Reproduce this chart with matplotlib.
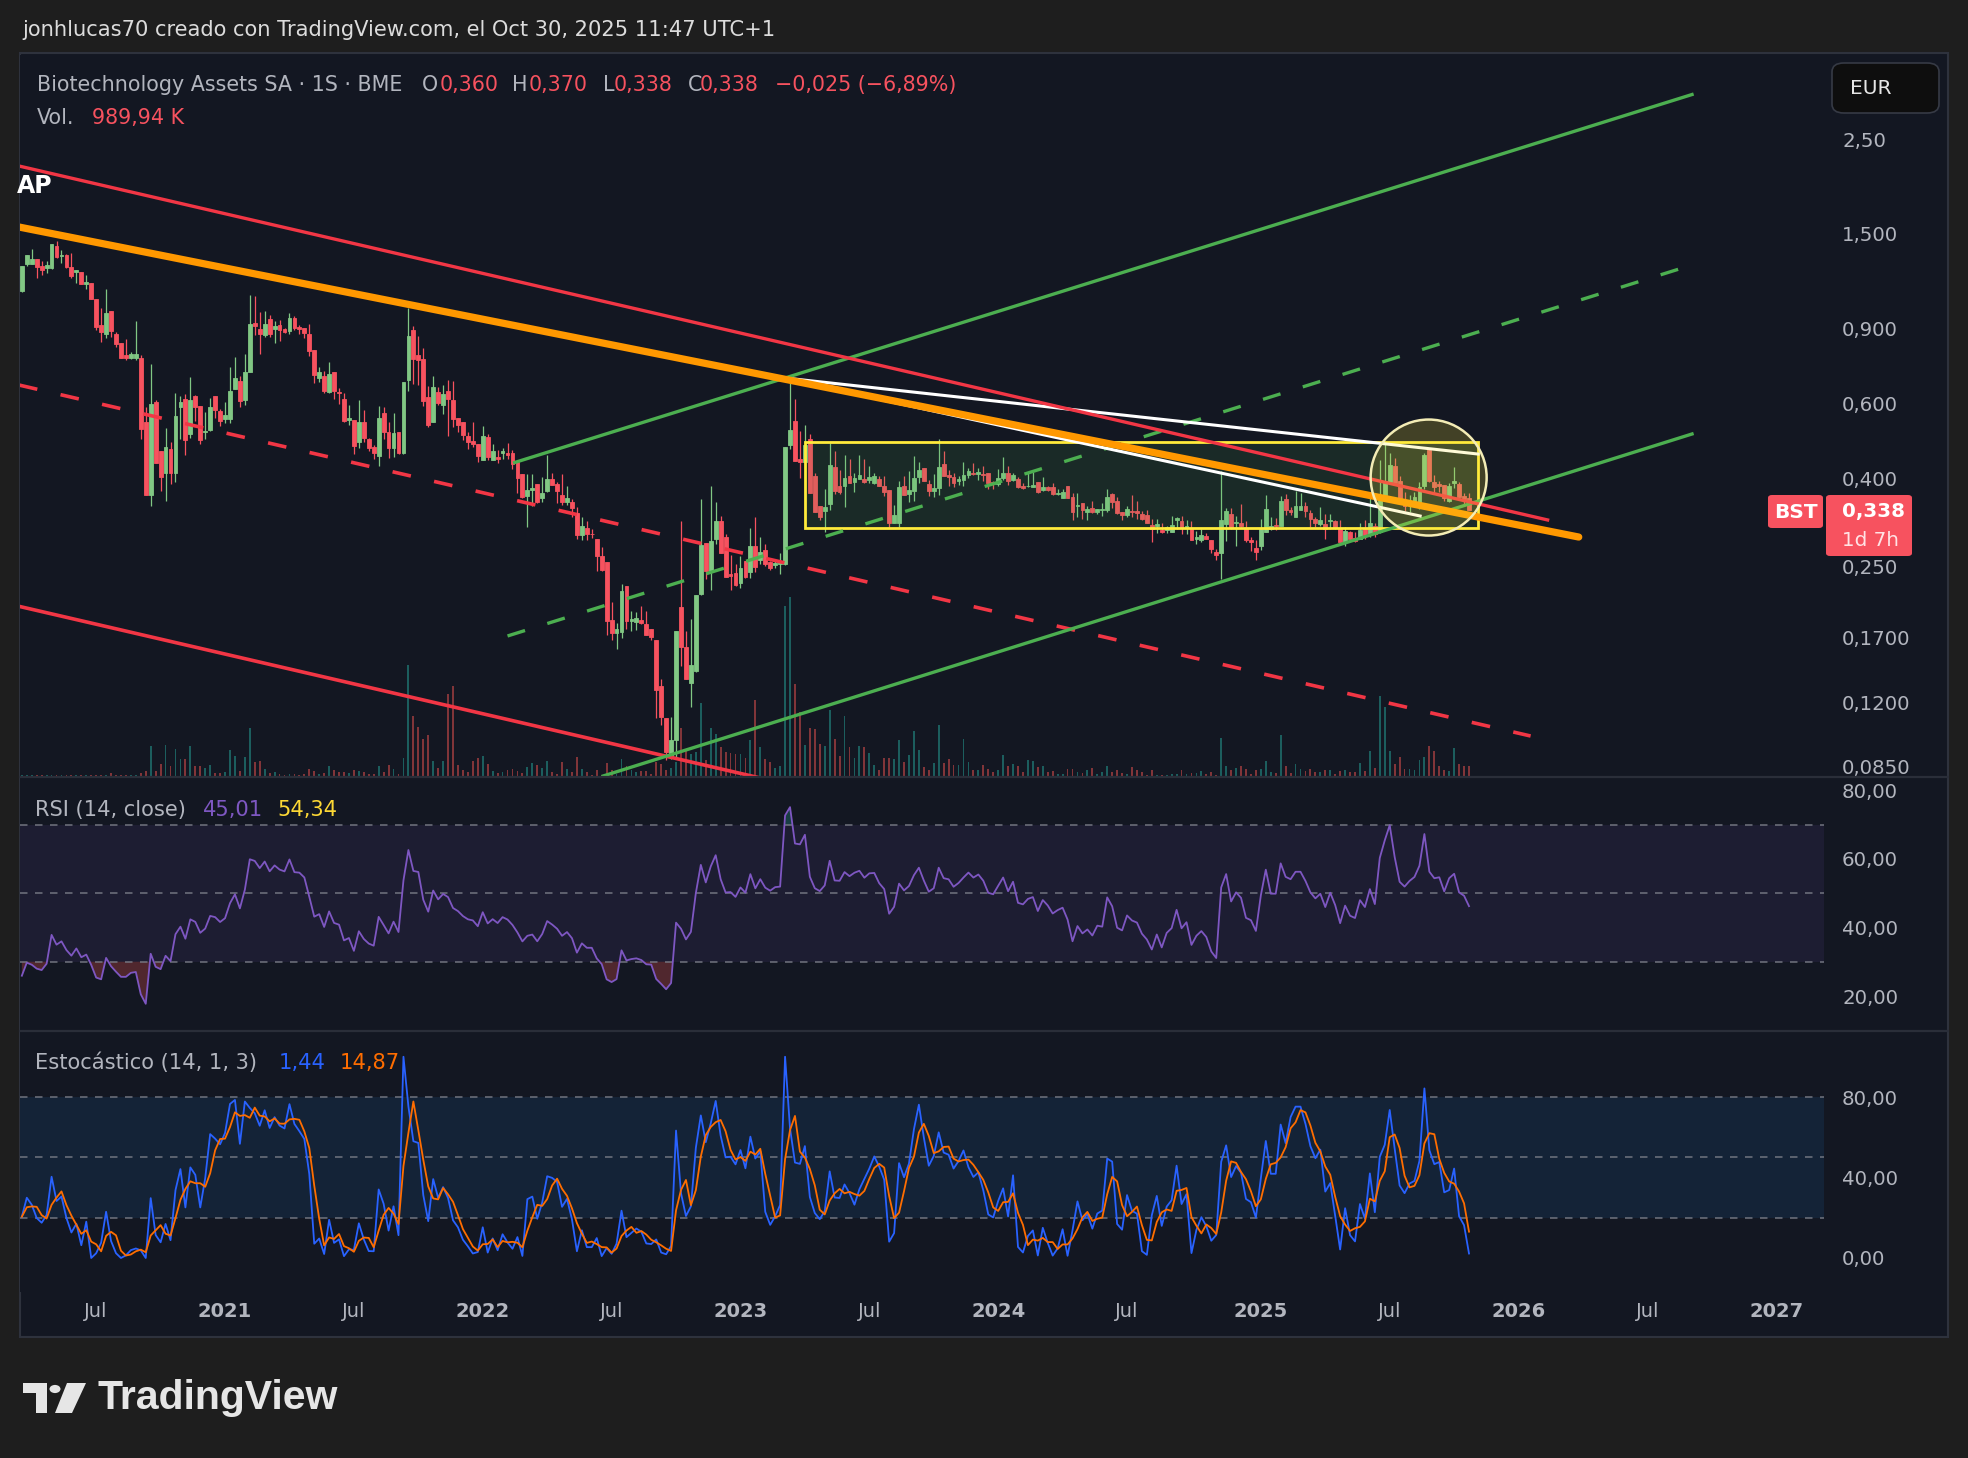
import numpy as np
import pandas as pd
import matplotlib
matplotlib.use('Agg')
import matplotlib.pyplot as plt
import matplotlib.dates as mdates
import matplotlib.transforms as mtransforms
from matplotlib.patches import Rectangle, Circle, FancyBboxPatch, Polygon
from matplotlib.lines import Line2D
from matplotlib.ticker import NullFormatter, NullLocator

# ---------------- data (weekly candles, BST / BME) ----------------
first_week = '2020-03-23'

open_ = [
    1.104, 1.274, 1.274, 1.308, 1.26, 1.245, 1.245, 1.406, 1.33, 1.336,
    1.255, 1.22, 1.22, 1.146, 1.15, 1.055, 0.918, 0.876, 0.989, 0.875,
    0.833, 0.781, 0.768, 0.768, 0.768, 0.544, 0.366, 0.607, 0.464, 0.413,
    0.47, 0.413, 0.589, 0.615, 0.511, 0.626, 0.593, 0.514, 0.52, 0.624,
    0.578, 0.553, 0.553, 0.65, 0.68, 0.611, 0.711, 0.927, 0.898, 0.868,
    0.945, 0.899, 0.917, 0.899, 0.888, 0.954, 0.909, 0.901, 0.874, 0.802,
    0.688, 0.695, 0.640, 0.712, 0.638, 0.616, 0.550, 0.549, 0.487, 0.544,
    0.496, 0.475, 0.453, 0.570, 0.516, 0.473, 0.515, 0.461, 0.682, 0.893,
    0.780, 0.764, 0.623, 0.545, 0.639, 0.595, 0.642, 0.612, 0.556, 0.544,
    0.505, 0.491, 0.483, 0.443, 0.502, 0.443, 0.450, 0.460, 0.459, 0.460,
    0.439, 0.41, 0.365, 0.377, 0.39, 0.36, 0.375, 0.399, 0.389, 0.367,
    0.354, 0.354, 0.332, 0.295, 0.307, 0.298, 0.29, 0.264, 0.256, 0.187,
    0.174, 0.175, 0.225, 0.186, 0.185, 0.187, 0.183, 0.178, 0.168, 0.131,
    0.11, 0.0895, 0.098, 0.201, 0.162, 0.133, 0.142, 0.215, 0.283, 0.244,
    0.29, 0.318, 0.292, 0.24, 0.241, 0.228, 0.257, 0.242, 0.278, 0.258, 0.272,
    0.255, 0.252, 0.253, 0.253, 0.48, 0.547, 0.445, 0.439, 0.495, 0.406,
    0.345, 0.337, 0.349, 0.426, 0.385, 0.385, 0.406, 0.394, 0.399, 0.40,
    0.398, 0.392, 0.40, 0.385, 0.376, 0.316, 0.316, 0.384, 0.368, 0.375,
    0.405, 0.425, 0.389, 0.374, 0.381, 0.434, 0.408, 0.404, 0.395, 0.397,
    0.409, 0.413, 0.411, 0.411, 0.412, 0.394, 0.39, 0.402, 0.414, 0.397,
    0.399, 0.384, 0.384, 0.383, 0.393, 0.376, 0.383, 0.382, 0.368, 0.361,
    0.384, 0.362, 0.345, 0.352, 0.335, 0.342, 0.335, 0.338, 0.338, 0.368,
    0.355, 0.335, 0.33, 0.337, 0.337, 0.331, 0.33, 0.312, 0.311, 0.303,
    0.304, 0.30, 0.321, 0.319, 0.308, 0.307, 0.289, 0.288, 0.294, 0.288,
    0.27, 0.268, 0.314, 0.331, 0.315, 0.315, 0.307, 0.287, 0.276, 0.279,
    0.301, 0.305, 0.312, 0.311, 0.359, 0.339, 0.325, 0.338, 0.346, 0.332,
    0.323, 0.313, 0.314, 0.318, 0.318, 0.307, 0.285, 0.301, 0.291, 0.29,
    0.306, 0.296, 0.311, 0.301, 0.366, 0.394, 0.429, 0.395, 0.355, 0.351,
    0.35, 0.348, 0.385, 0.467, 0.394, 0.389, 0.388, 0.355, 0.392, 0.39,
    0.364, 0.36,
]
high_ = [
    1.26, 1.336, 1.38, 1.308, 1.296, 1.296, 1.42, 1.444, 1.375, 1.345,
    1.35, 1.232, 1.22, 1.202, 1.15, 1.055, 1.006, 1.114, 0.989, 0.885,
    0.833, 0.85, 0.793, 0.938, 0.781, 0.589, 0.743, 0.612, 0.464, 0.527,
    0.487, 0.635, 0.626, 0.632, 0.693, 0.628, 0.593, 0.574, 0.62, 0.624,
    0.584, 0.606, 0.73, 0.772, 0.695, 0.784, 1.081, 1.075, 0.983, 0.99,
    0.968, 0.937, 0.942, 0.904, 0.977, 0.962, 0.917, 0.901, 0.922, 0.802,
    0.733, 0.716, 0.752, 0.712, 0.652, 0.636, 0.596, 0.549, 0.612, 0.580,
    0.499, 0.480, 0.593, 0.590, 0.543, 0.570, 0.515, 0.674, 1.008, 0.912,
    0.865, 0.811, 0.660, 0.696, 0.656, 0.663, 0.682, 0.678, 0.556, 0.544,
    0.515, 0.544, 0.483, 0.532, 0.509, 0.483, 0.468, 0.472, 0.485, 0.468,
    0.44, 0.41, 0.411, 0.411, 0.39, 0.405, 0.455, 0.413, 0.394, 0.411,
    0.384, 0.358, 0.344, 0.326, 0.319, 0.305, 0.29, 0.277, 0.256, 0.206,
    0.184, 0.227, 0.225, 0.196, 0.195, 0.202, 0.196, 0.178, 0.168, 0.136,
    0.11, 0.111, 0.176, 0.318, 0.176, 0.188, 0.214, 0.359, 0.283, 0.384,
    0.353, 0.328, 0.297, 0.265, 0.253, 0.264, 0.257, 0.307, 0.325, 0.293, 0.281,
    0.257, 0.258, 0.268, 0.474, 0.686, 0.617, 0.517, 0.535, 0.509, 0.412,
    0.345, 0.379, 0.486, 0.465, 0.42, 0.455, 0.445, 0.412, 0.455, 0.445,
    0.43, 0.412, 0.406, 0.407, 0.376, 0.348, 0.396, 0.406, 0.417, 0.452,
    0.438, 0.425, 0.398, 0.41, 0.497, 0.465, 0.42, 0.412, 0.407, 0.438,
    0.424, 0.435, 0.424, 0.429, 0.412, 0.395, 0.423, 0.451, 0.429, 0.412,
    0.405, 0.391, 0.416, 0.415, 0.394, 0.405, 0.386, 0.391, 0.378, 0.378,
    0.384, 0.37, 0.37, 0.352, 0.346, 0.355, 0.341, 0.351, 0.379, 0.37,
    0.362, 0.335, 0.346, 0.367, 0.355, 0.336, 0.338, 0.322, 0.322, 0.316,
    0.31, 0.328, 0.325, 0.327, 0.32, 0.318, 0.302, 0.305, 0.299, 0.288,
    0.274, 0.417, 0.342, 0.342, 0.327, 0.35, 0.319, 0.293, 0.287, 0.322,
    0.367, 0.326, 0.324, 0.364, 0.368, 0.344, 0.375, 0.37, 0.354, 0.338,
    0.326, 0.343, 0.331, 0.331, 0.321, 0.32, 0.308, 0.302, 0.301, 0.316,
    0.321, 0.366, 0.315, 0.443, 0.486, 0.459, 0.447, 0.406, 0.373, 0.367,
    0.372, 0.393, 0.461, 0.47, 0.409, 0.396, 0.388, 0.391, 0.426, 0.393,
    0.371, 0.37,
]
low_ = [
    1.095, 1.262, 1.274, 1.181, 1.204, 1.215, 1.24, 1.32, 1.284, 1.25,
    1.18, 1.153, 1.146, 1.116, 1.055, 0.894, 0.839, 0.857, 0.86, 0.813,
    0.768, 0.76, 0.764, 0.758, 0.496, 0.366, 0.345, 0.437, 0.375, 0.355,
    0.39, 0.393, 0.496, 0.456, 0.50, 0.547, 0.483, 0.496, 0.518, 0.556,
    0.531, 0.542, 0.542, 0.65, 0.589, 0.597, 0.711, 0.867, 0.786, 0.86,
    0.862, 0.834, 0.842, 0.879, 0.874, 0.893, 0.874, 0.857, 0.776, 0.672,
    0.676, 0.637, 0.637, 0.617, 0.600, 0.543, 0.536, 0.457, 0.473, 0.489,
    0.465, 0.445, 0.429, 0.495, 0.448, 0.450, 0.457, 0.457, 0.642, 0.668,
    0.663, 0.592, 0.528, 0.543, 0.597, 0.569, 0.505, 0.528, 0.516, 0.493,
    0.471, 0.474, 0.439, 0.443, 0.442, 0.443, 0.436, 0.446, 0.445, 0.421,
    0.37, 0.361, 0.308, 0.346, 0.352, 0.354, 0.373, 0.387, 0.352, 0.347,
    0.348, 0.325, 0.289, 0.288, 0.288, 0.291, 0.243, 0.244, 0.172, 0.168,
    0.16, 0.17, 0.178, 0.176, 0.177, 0.183, 0.172, 0.168, 0.11, 0.106,
    0.088, 0.0885, 0.0885, 0.146, 0.136, 0.117, 0.141, 0.214, 0.233, 0.22,
    0.282, 0.268, 0.236, 0.22, 0.225, 0.222, 0.234, 0.234, 0.242, 0.253, 0.25,
    0.245, 0.247, 0.24, 0.252, 0.471, 0.441, 0.402, 0.438, 0.371, 0.335,
    0.32, 0.301, 0.338, 0.368, 0.368, 0.344, 0.392, 0.373, 0.399, 0.392,
    0.392, 0.39, 0.385, 0.365, 0.308, 0.316, 0.308, 0.366, 0.353, 0.356,
    0.392, 0.395, 0.364, 0.363, 0.367, 0.406, 0.385, 0.383, 0.388, 0.385,
    0.401, 0.409, 0.397, 0.396, 0.379, 0.378, 0.385, 0.398, 0.388, 0.395,
    0.381, 0.378, 0.382, 0.382, 0.371, 0.374, 0.375, 0.367, 0.367, 0.36,
    0.36, 0.32, 0.325, 0.322, 0.32, 0.333, 0.331, 0.328, 0.335, 0.342,
    0.331, 0.32, 0.325, 0.325, 0.322, 0.321, 0.315, 0.285, 0.299, 0.299,
    0.299, 0.30, 0.306, 0.298, 0.298, 0.287, 0.281, 0.285, 0.289, 0.268,
    0.258, 0.233, 0.286, 0.305, 0.278, 0.309, 0.284, 0.271, 0.258, 0.272,
    0.30, 0.303, 0.303, 0.311, 0.329, 0.329, 0.325, 0.338, 0.325, 0.308,
    0.309, 0.31, 0.289, 0.306, 0.306, 0.28, 0.278, 0.288, 0.285, 0.289,
    0.29, 0.293, 0.293, 0.299, 0.363, 0.394, 0.39, 0.351, 0.337, 0.335,
    0.346, 0.341, 0.379, 0.393, 0.373, 0.373, 0.355, 0.354, 0.38, 0.361,
    0.349, 0.338,
]
close_ = [
    1.26, 1.336, 1.308, 1.255, 1.236, 1.267, 1.42, 1.323, 1.341, 1.255,
    1.197, 1.232, 1.146, 1.158, 1.055, 0.907, 0.885, 0.978, 0.89, 0.828,
    0.768, 0.768, 0.783, 0.786, 0.524, 0.366, 0.60, 0.437, 0.405, 0.475,
    0.413, 0.562, 0.607, 0.494, 0.612, 0.59, 0.494, 0.518, 0.59, 0.581,
    0.546, 0.565, 0.642, 0.69, 0.608, 0.711, 0.922, 0.913, 0.876, 0.922,
    0.874, 0.912, 0.893, 0.885, 0.954, 0.901, 0.899, 0.880, 0.799, 0.701,
    0.711, 0.644, 0.704, 0.644, 0.635, 0.547, 0.555, 0.478, 0.544, 0.500,
    0.473, 0.461, 0.556, 0.516, 0.473, 0.512, 0.461, 0.674, 0.865, 0.765,
    0.760, 0.610, 0.535, 0.656, 0.602, 0.633, 0.615, 0.553, 0.535, 0.507,
    0.489, 0.483, 0.453, 0.504, 0.449, 0.464, 0.446, 0.465, 0.455, 0.433,
    0.402, 0.363, 0.377, 0.38, 0.354, 0.37, 0.399, 0.388, 0.375, 0.353,
    0.36, 0.342, 0.295, 0.311, 0.297, 0.297, 0.264, 0.245, 0.186, 0.174,
    0.178, 0.219, 0.186, 0.188, 0.189, 0.184, 0.172, 0.171, 0.128, 0.111,
    0.0915, 0.098, 0.176, 0.162, 0.136, 0.147, 0.214, 0.28, 0.244, 0.286,
    0.319, 0.268, 0.236, 0.237, 0.226, 0.247, 0.236, 0.278, 0.249, 0.27, 0.253,
    0.247, 0.254, 0.255, 0.474, 0.52, 0.441, 0.439, 0.48, 0.371, 0.335,
    0.326, 0.344, 0.432, 0.374, 0.373, 0.403, 0.392, 0.403, 0.409, 0.393,
    0.405, 0.406, 0.385, 0.373, 0.316, 0.33, 0.382, 0.367, 0.377, 0.402,
    0.42, 0.396, 0.374, 0.381, 0.426, 0.407, 0.405, 0.392, 0.399, 0.409,
    0.418, 0.411, 0.416, 0.408, 0.392, 0.39, 0.401, 0.412, 0.396, 0.408,
    0.382, 0.38, 0.386, 0.388, 0.372, 0.383, 0.377, 0.368, 0.371, 0.373,
    0.361, 0.335, 0.347, 0.338, 0.341, 0.334, 0.341, 0.34, 0.362, 0.354,
    0.332, 0.329, 0.34, 0.335, 0.333, 0.322, 0.316, 0.305, 0.314, 0.30,
    0.309, 0.312, 0.324, 0.307, 0.311, 0.287, 0.293, 0.296, 0.29, 0.274,
    0.266, 0.321, 0.336, 0.307, 0.317, 0.311, 0.287, 0.284, 0.27, 0.306,
    0.34, 0.31, 0.31, 0.355, 0.338, 0.335, 0.346, 0.346, 0.336, 0.323,
    0.316, 0.321, 0.306, 0.321, 0.307, 0.284, 0.302, 0.289, 0.286, 0.304,
    0.296, 0.315, 0.298, 0.361, 0.395, 0.431, 0.391, 0.353, 0.345, 0.355,
    0.362, 0.382, 0.455, 0.395, 0.383, 0.385, 0.36, 0.386, 0.395, 0.363,
    0.357, 0.338,
]
volume_k = [
    170, 160, 150, 160, 150, 170, 160, 150, 160, 150, 160, 170, 160, 150, 160, 150,
    160, 170, 380, 160, 170, 160, 170, 180,
    316, 570, 2750, 570, 1170, 2840, 1010, 2530, 1580, 1640, 2750, 950, 1010, 850,
    1100, 380, 380, 470, 2430, 1900, 570, 1800, 4420, 1360, 1450,
    750, 360, 420, 300, 150, 300, 240, 150, 300, 690, 510, 240, 360, 960, 600, 420,
    420, 360, 600, 540, 420, 240, 300, 960, 420, 1050, 750, 240, 1680, 10050, 5460,
    4500, 3390, 3750, 1410, 810, 1410, 7440, 8160, 1050, 600, 450, 1410, 1710, 1890,
    1140, 510, 360, 450, 660, 750,
    540, 360, 900, 1260, 1050, 810, 1440, 450, 300, 1350, 750, 450, 1800, 690, 450,
    210, 660, 150, 1260, 600, 300, 1590, 960, 600, 450, 510, 510, 240, 1350, 1200,
    600, 840, 1350, 4410, 2400, 2100, 2250, 6660, 1500, 4410, 3840, 2700, 2250, 2160,
    2040, 2040, 1680, 3300, 6900, 2700,
    1650, 1350, 810, 960, 15390, 16200, 8400, 5850, 2850, 4410, 4290, 3000, 2760, 6060,
    3390, 1860, 5460, 2700, 1710, 2760, 2700, 2160, 1050, 600, 1710, 1710, 1590, 3300,
    1350, 1950, 4140, 2430, 900, 660, 1260, 4650, 1260, 1590, 1050, 1050, 3390, 1350,
    600, 660, 1050, 750, 450, 600, 1950, 960, 1140,
    990, 450, 1500, 1440, 900, 990, 450, 540, 240, 300, 690, 750, 450, 360, 660, 810,
    300, 450, 990, 450, 600, 360, 300, 900, 600, 420, 210, 600, 150, 150, 150, 240,
    240, 600, 300, 360, 360, 540, 240, 420, 180, 3510, 990, 660, 810, 990, 750, 300,
    660, 750,
    1440, 450, 360, 3750, 990, 360, 1140, 750, 540, 690, 450, 450, 660, 600, 300, 540,
    660, 450, 420, 1260, 540, 2340, 810, 7290, 6300, 2340, 1200, 1800, 750, 750, 600,
    1500, 1800, 2790, 2340, 990, 660, 540, 2610, 1200, 990, 990,
]

# indicator state carried in from the weeks before the first visible candle
rsi_seed_avg_gain = 0.028
rsi_seed_avg_loss = 0.080
stoch_prior_high = 1.90
stoch_prior_low = 1.10

price_ticks = [2.5, 1.5, 0.9, 0.6, 0.4, 0.25, 0.17, 0.12, 0.085]
price_tick_labels = ['2,50', '1,500', '0,900', '0,600', '0,400', '0,250', '0,1700', '0,1200', '0,0850']
rsi_ticks = [80, 60, 40, 20]
rsi_tick_labels = ['80,00', '60,00', '40,00', '20,00']
stoch_ticks = [80, 40, 0]
stoch_tick_labels = ['80,00', '40,00', '0,00']
# first weekly bar of each half-year
time_ticks = ['2020-07-06', '2021-01-04', '2021-07-05', '2022-01-03', '2022-07-04', '2023-01-02',
              '2023-07-03', '2024-01-01', '2024-07-01', '2025-01-06', '2025-07-07', '2026-01-05',
              '2026-07-06', '2027-01-04']
time_labels = ['Jul', '2021', 'Jul', '2022', 'Jul', '2023', 'Jul', '2024', 'Jul', '2025', 'Jul',
               '2026', 'Jul', '2027']

# drawings (anchor dates, anchor prices)
orange_trend = (['2020-03-19', '2026-03-31'], [1.556, 0.2924])
red_channel_top = (['2020-03-19', '2026-02-15'], [2.162, 0.3206])
red_channel_mid = (['2020-03-19', '2026-01-22'], [0.6637, 0.100])
red_channel_bot = (['2020-03-13', '2023-01-29'], [0.2023, 0.0798])
green_channel_top = (['2022-02-17', '2026-09-07'], [0.437, 3.179])
green_channel_mid = (['2022-02-07', '2026-09-07'], [0.1715, 1.268])
green_channel_bot = (['2022-06-22', '2026-09-07'], [0.0806, 0.5097])
white_upper = (['2023-03-12', '2025-11-09'], [0.6876, 0.4574])
white_lower = (['2023-03-12', '2025-08-19'], [0.6821, 0.3275])
range_box = (['2023-04-03', '2025-11-09'], [0.3074, 0.4889])
focus_circle = ('2025-08-31', 0.403)

# ---------------- style ----------------
W, H = 1968, 1458
BG = '#131722'
OUTER = '#1e1e1e'
GRAY = '#b2b5be'
UP = '#81c784'
DOWN = '#f7525f'
plt.rcParams['font.family'] = ['DejaVu Sans']

fig = plt.figure(figsize=(W / 100, H / 100), dpi=100)
fig.patch.set_facecolor(OUTER)


def frect(x0, y0, x1, y1):
    return [x0 / W, 1 - y1 / H, (x1 - x0) / W, (y1 - y0) / H]


def fp(x, y):
    return (x / W, 1 - y / H)


# panel
fig.add_artist(Rectangle(fp(20, 1337), (1948 - 20) / W, (1337 - 53) / H, transform=fig.transFigure,
                         facecolor=BG, edgecolor='#2e323d', lw=1.5, zorder=-5))

ax_vol = fig.add_axes(frect(20, 55, 1824, 777))
ax = fig.add_axes(frect(20, 55, 1824, 777), sharex=ax_vol)
ax_rsi = fig.add_axes(frect(20, 777, 1824, 1031), sharex=ax_vol)
ax_st = fig.add_axes(frect(20, 1031, 1824, 1292), sharex=ax_vol)
ax_vol.set_facecolor(BG)
ax.set_facecolor('none')
ax_rsi.set_facecolor(BG)
ax_st.set_facecolor(BG)
for a in (ax_vol, ax, ax_rsi, ax_st):
    for s in a.spines.values():
        s.set_visible(False)

# separators
for yy in (777, 1031):
    fig.add_artist(Line2D([20 / W, 1948 / W], [1 - yy / H] * 2, transform=fig.transFigure,
                          color='#2a2e39', lw=1.6, zorder=10))

dates = pd.date_range(first_week, periods=len(close_), freq='7D')
x = mdates.date2num(dates.to_pydatetime())
o = np.array(open_); h = np.array(high_); l = np.array(low_); c = np.array(close_)
v = np.array(volume_k, dtype=float)
up = c >= o
cols = np.where(up, UP, DOWN)

# volume
vcols = [(0.149, 0.651, 0.604, 0.5) if u else (0.937, 0.325, 0.314, 0.5) for u in up]
ax_vol.bar(x, v, width=2.6, color=vcols, linewidth=0)
ax_vol.set_ylim(0, 64980)
ax_vol.set_yticks([])
ax_vol.tick_params(axis='x', bottom=False, labelbottom=False)

# candles
ax.set_yscale('log')
ax.vlines(x, l, h, colors=cols, lw=0.9, zorder=2)
ax.bar(x, np.abs(c - o), bottom=np.minimum(o, c), width=5.4, color=cols, edgecolor=cols,
       linewidth=0.6, zorder=3)


def dn(s):
    return mdates.date2num(pd.Timestamp(s))


def trend(spec, **kw):
    ds, ps = spec
    ax.plot([dn(d) for d in ds], ps, **kw)


trend(red_channel_bot, color='#f23645', lw=2.6, zorder=5)
trend(red_channel_mid, color='#f23645', lw=2.6, dashes=(5.2, 6.6), zorder=5)
trend(green_channel_top, color='#4caf50', lw=2.4, zorder=5)
trend(green_channel_mid, color='#4caf50', lw=2.4, dashes=(5.5, 7.0), zorder=5)
trend(green_channel_bot, color='#4caf50', lw=2.4, zorder=5)
trend(white_upper, color='#ffffff', lw=2.2, zorder=5)
trend(white_lower, color='#ffffff', lw=2.2, zorder=5)
trend(red_channel_top, color='#f23645', lw=2.4, zorder=6)
trend(orange_trend, color='#ff9800', lw=5.2, solid_capstyle='round', zorder=7)

bx0, bx1 = dn(range_box[0][0]), dn(range_box[0][1])
by0, by1 = range_box[1]
ax.add_patch(Rectangle((bx0, by0), bx1 - bx0, by1 - by0, facecolor=(0.30, 0.69, 0.31, 0.13),
                       edgecolor='#ffeb3b', lw=2.0, zorder=4))

ctrans = fig.dpi_scale_trans + mtransforms.ScaledTranslation(dn(focus_circle[0]), focus_circle[1], ax.transData)
ax.add_patch(Circle((0, 0), 0.58, transform=ctrans, facecolor=(1.0, 0.92, 0.23, 0.2),
                    edgecolor='#f3ecb5', lw=1.8, zorder=9))

ax.set_ylim(0.08017, 3.934)
ax.yaxis.tick_right()
ax.set_yticks(price_ticks)
ax.set_yticklabels(price_tick_labels)
ax.yaxis.set_minor_locator(NullLocator())
ax.yaxis.set_minor_formatter(NullFormatter())
ax.tick_params(axis='y', length=0, pad=13, labelsize=14.2, labelcolor=GRAY)
ax.tick_params(axis='x', bottom=False, labelbottom=False)

# RSI (14) from closes, Wilder smoothing
ag, al = rsi_seed_avg_gain, rsi_seed_avg_loss
rsi = [100 - 100 / (1 + ag / al)]
for i in range(1, len(c)):
    dlt = c[i] - c[i - 1]
    ag = (ag * 13 + max(dlt, 0.0)) / 14
    al = (al * 13 + max(-dlt, 0.0)) / 14
    rsi.append(100 - 100 / (1 + ag / al))
rsi = np.array(rsi)
ax_rsi.axhspan(30, 70, color=(0.494, 0.341, 0.761, 0.1), lw=0)
for lev in (70, 50, 30):
    ax_rsi.axhline(lev, color='#787b86', lw=1.2, dashes=(4.5, 4.5), alpha=0.85)
ax_rsi.fill_between(x, rsi, 30, where=rsi < 30, interpolate=True, color='#ef5350', alpha=0.28, lw=0)
ax_rsi.fill_between(x, rsi, 70, where=rsi > 70, interpolate=True, color='#26a69a', alpha=0.28, lw=0)
ax_rsi.plot(x, rsi, color='#7e57c2', lw=1.3)
ax_rsi.set_ylim(9.8, 83.9)
ax_rsi.yaxis.tick_right()
ax_rsi.set_yticks(rsi_ticks)
ax_rsi.set_yticklabels(rsi_tick_labels)
ax_rsi.tick_params(axis='y', length=0, pad=13, labelsize=14.2, labelcolor=GRAY)
ax_rsi.tick_params(axis='x', bottom=False, labelbottom=False)

# Stochastic (14, 1, 3)
k_line = []
for i in range(len(c)):
    lo_i = max(0, i - 13)
    hh = h[lo_i:i + 1].max()
    ll = l[lo_i:i + 1].min()
    if i < 13:
        hh = max(hh, stoch_prior_high)
        ll = min(ll, stoch_prior_low)
    k_line.append(100 * (c[i] - ll) / (hh - ll))
k_line = np.array(k_line)
d_line = pd.Series(k_line).rolling(3, min_periods=1).mean().to_numpy()
ax_st.axhspan(20, 80, color=(0.129, 0.588, 0.953, 0.1), lw=0)
for lev in (80, 50, 20):
    ax_st.axhline(lev, color='#787b86', lw=1.2, dashes=(4.5, 4.5), alpha=0.85)
ax_st.plot(x, k_line, color='#2962ff', lw=1.3)
ax_st.plot(x, d_line, color='#ff6d00', lw=1.3)
ax_st.set_ylim(-16.9, 112.8)
ax_st.yaxis.tick_right()
ax_st.set_yticks(stoch_ticks)
ax_st.set_yticklabels(stoch_tick_labels)
ax_st.tick_params(axis='y', length=0, pad=13, labelsize=14.2, labelcolor=GRAY)
ax_st.set_xticks([dn(t) for t in time_ticks])
ax_st.set_xticklabels(time_labels)
ax_st.tick_params(axis='x', length=0, pad=7, labelsize=14, labelcolor=GRAY)
for tl in ax_st.get_xticklabels():
    if tl.get_text() != 'Jul':
        tl.set_fontweight('bold')

x_last = x[-1]
ax_vol.set_xlim(x_last - 2046.6, x_last + 501.4)

# ---------------- texts ----------------
renderer = fig.canvas.get_renderer()


def put(xp, yp, s, color, size=14.0, weight='normal', width=None, ha='left', **kw):
    t = fig.text(xp / W, 1 - yp / H, s, color=color, fontsize=size, fontweight=weight,
                 ha=ha, va='center', zorder=20, **kw)
    if width:
        w = t.get_window_extent(renderer).width
        t.set_fontsize(size * width / w)
    return t


put(22, 30, 'jonhlucas70 creado con TradingView.com, el Oct 30, 2025 11:47 UTC+1', '#dcdcdc', width=759)
t0 = put(37, 85, 'Biotechnology Assets SA · 1S · BME', GRAY, width=368)
fs = t0.get_fontsize()
for xp, s, col in [(422, 'O', GRAY), (440, '0,360', DOWN), (512, 'H', GRAY), (529, '0,370', DOWN),
                   (603, 'L', GRAY), (614, '0,338', DOWN), (688, 'C', GRAY), (700, '0,338', DOWN),
                   (775, '−0,025 (−6,89%)', DOWN)]:
    put(xp, 85, s, col, size=fs)
put(37, 118, 'Vol.', GRAY, size=fs)
put(92, 118, '989,94 K', DOWN, size=fs)
put(17, 186, 'AP', '#ffffff', size=17, weight='bold')

t1 = put(35, 810, 'RSI (14, close)', GRAY, width=152)
fs2 = t1.get_fontsize()
put(203, 810, '45,01', '#7e57c2', size=fs2)
put(277, 810, '54,34', '#fdd835', size=fs2)
put(35, 1063, 'Estocástico (14, 1, 3)', GRAY, size=fs2)
put(279, 1063, '1,44', '#2962ff', size=fs2)
put(340, 1063, '14,87', '#ff6d00', size=fs2)

# EUR box
fig.add_artist(FancyBboxPatch(fp(1832, 113), (1939 - 1832) / W, (113 - 63) / H, transform=fig.transFigure,
                              boxstyle='round,pad=0,rounding_size=0.006', facecolor='#0e0e0e',
                              edgecolor='#363a45', lw=1.2, zorder=15))
put(1850, 88, 'EUR', '#e6e6e6', size=14.5)

# last price labels
fig.add_artist(FancyBboxPatch(fp(1768, 528), (1823 - 1768) / W, (528 - 495) / H, transform=fig.transFigure,
                              boxstyle='round,pad=0,rounding_size=0.002', facecolor=DOWN, edgecolor='none',
                              zorder=15))
put(1795.5, 512, 'BST', '#ffffff', size=14.5, weight='bold', ha='center')
fig.add_artist(FancyBboxPatch(fp(1826, 556), (1912 - 1826) / W, (556 - 495) / H, transform=fig.transFigure,
                              boxstyle='round,pad=0,rounding_size=0.002', facecolor=DOWN, edgecolor='none',
                              zorder=15))
put(1842, 511, '0,338', '#ffffff', size=14.3, weight='bold')
put(1842, 540, '1d 7h', '#ffe3e5', size=14.3)

# TradingView logo
fig.add_artist(Polygon([fp(23, 1383), fp(47, 1383), fp(47, 1413), fp(36, 1413), fp(36, 1393), fp(23, 1393)],
                       closed=True, transform=fig.transFigure, facecolor='#e6e6e6', edgecolor='none', zorder=15))
fig.add_artist(Circle(fp(55, 1389), 5.5 / W, transform=fig.transFigure, facecolor='#e6e6e6',
                      edgecolor='none', zorder=15))
fig.add_artist(Polygon([fp(67, 1383), fp(86, 1383), fp(72, 1413), fp(55, 1413)], closed=True,
                       transform=fig.transFigure, facecolor='#e6e6e6', edgecolor='none', zorder=15))
put(98, 1398, 'TradingView', '#e6e6e6', weight='bold', width=241, family='Liberation Sans')

fig.savefig('out.png', dpi=100, facecolor=fig.get_facecolor())
